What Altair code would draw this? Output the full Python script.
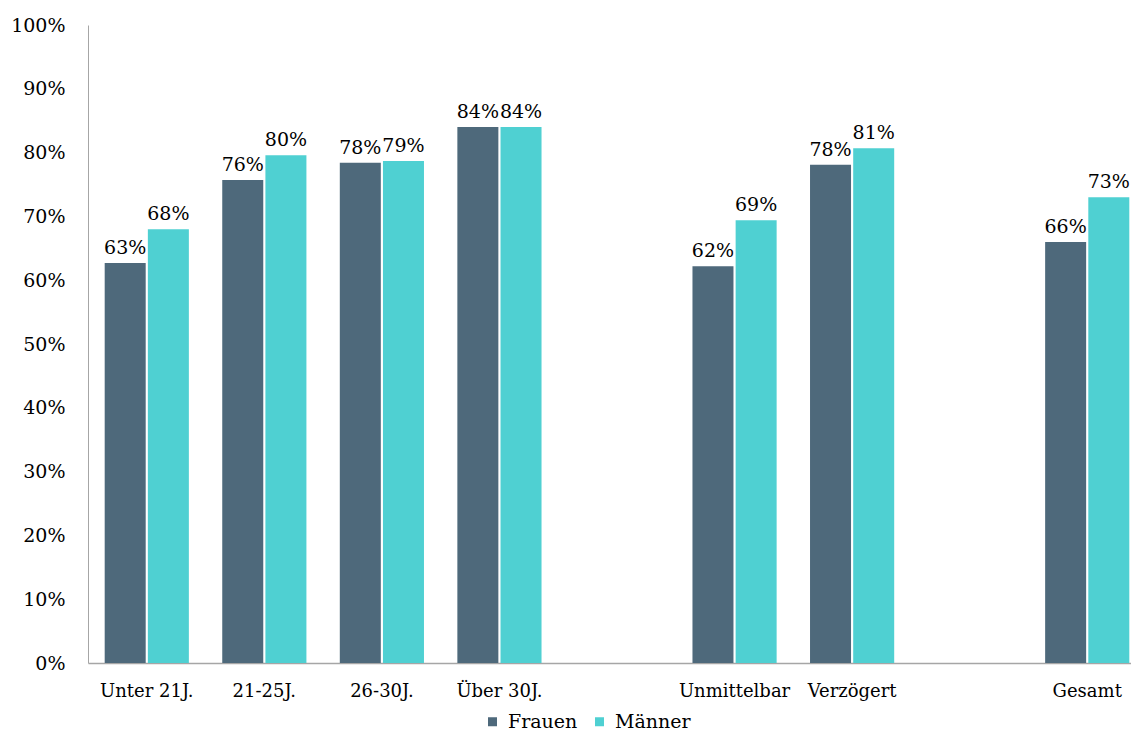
import altair as alt
import pandas as pd

categories = ["Unter 21J.", "21-25J.", "26-30J.", "Über 30J.", "gap1",
              "Unmittelbar", "Verzögert", "gap2", "Gesamt"]
groups = ["Unter 21J.", "21-25J.", "26-30J.", "Über 30J.",
          "Unmittelbar", "Verzögert", "Gesamt"]
frauen = [0.627, 0.757, 0.784, 0.840, 0.622, 0.781, 0.660]
maenner = [0.680, 0.796, 0.787, 0.840, 0.694, 0.807, 0.730]
series = ["Frauen", "Männer"]
colors = ["#4e697b", "#4fd0d2"]

rows = []
for g, f, m in zip(groups, frauen, maenner):
    rows.append({"cat": g, "serie": "Frauen", "val": f})
    rows.append({"cat": g, "serie": "Männer", "val": m})
df = pd.DataFrame(rows)

FONT = "DejaVu Serif"

x = alt.X("cat:N", sort=categories,
          scale=alt.Scale(domain=categories, range=[0, 1058],
                          paddingInner=0.284, paddingOuter=0.142),
          axis=alt.Axis(title=None, labelAngle=0, ticks=False,
                        labelExpr="indexof(datum.label, 'gap') == 0 ? '' : datum.label",
                        labelFont=FONT, labelFontSize=18, labelColor="#000000",
                        labelPadding=19, domainColor="#a6a6a6", domainWidth=1.3))
xo = alt.XOffset("serie:N", sort=series,
                 scale=alt.Scale(domain=series, paddingInner=0.05))
y = alt.Y("val:Q", scale=alt.Scale(domain=[0, 1]),
          axis=alt.Axis(title=None, format=".0%", values=[i / 10 for i in range(11)],
                        grid=False, ticks=False, labelFont=FONT, labelFontSize=19,
                        labelColor="#000000", labelPadding=23,
                        domainColor="#a6a6a6", domainWidth=1))
color = alt.Color("serie:N", sort=series,
                  scale=alt.Scale(domain=series, range=colors),
                  legend=alt.Legend(title=None, orient="none", direction="horizontal",
                                    legendX=395, legendY=687, symbolType="square",
                                    symbolSize=81, symbolStrokeWidth=0,
                                    labelFont=FONT, labelFontSize=19,
                                    labelColor="#000000", labelOffset=6,
                                    columnPadding=12, padding=0))

bars = alt.Chart(df).mark_bar().encode(x=x, xOffset=xo, y=y, color=color)
labels = alt.Chart(df).mark_text(baseline="bottom", dy=-5, font=FONT,
                                 fontSize=19, color="#000000").encode(
    x=x, xOffset=xo, y=y, text=alt.Text("val:Q", format=".0%"))

chart = alt.layer(bars, labels).properties(
    width=1043, height=638,
    background="#ffffff",
    autosize=alt.AutoSizeParams(type="none"),
    padding={"left": 80, "top": 17, "right": 0, "bottom": 69},
).configure_view(stroke=None, strokeWidth=0)

chart.save("out.html", embed_options={"renderer": "svg", "actions": False})
